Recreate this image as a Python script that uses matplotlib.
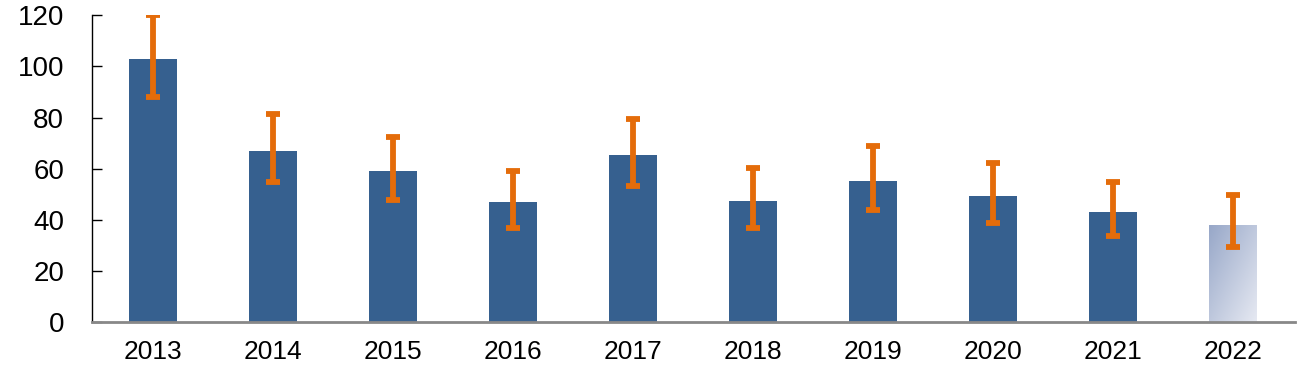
import numpy as np
import matplotlib
matplotlib.use("Agg")
import matplotlib.pyplot as plt
from matplotlib.colors import LinearSegmentedColormap

# valeurs
years = ["2013", "2014", "2015", "2016", "2017", "2018", "2019", "2020", "2021", "2022"]
values = [103.0, 67.0, 59.2, 47.0, 65.5, 47.5, 55.3, 49.4, 43.2, 38.1]
err_high = [120.0, 81.3, 72.6, 59.3, 79.6, 60.1, 68.7, 62.1, 55.0, 49.6]
err_low = [88.0, 55.0, 47.6, 36.9, 53.3, 36.9, 43.9, 38.9, 33.8, 29.2]

bar_color = "#36608f"
err_color = "#e46c0a"

plt.rcParams["font.family"] = ["Liberation Sans", "DejaVu Sans"]

fig = plt.figure(figsize=(13.12, 3.79), dpi=100)
ax = fig.add_axes([0.0701, 0.150, 0.9169, 0.8096])

x = np.arange(len(years))
bars = ax.bar(x, values, width=0.4, color=bar_color, zorder=2)

# dernière barre : dégradé clair (estimation)
last = bars[-1]
last.set_facecolor("none")
cmap = LinearSegmentedColormap.from_list("grad", ["#97a7c8", "#e6e9f2"])
gx, gy = np.meshgrid(np.linspace(0, 1, 60), np.linspace(0, 1, 120))
grad = (gx + gy) / 2
x0 = last.get_x()
im = ax.imshow(grad, cmap=cmap, extent=[x0, x0 + last.get_width(), 0, last.get_height()],
               origin="upper", aspect="auto", zorder=2, interpolation="bilinear")
im.set_clip_path(last)

# barres d'erreur
yerr = [np.array(values) - np.array(err_low), np.array(err_high) - np.array(values)]
ax.errorbar(x, values, yerr=yerr, fmt="none", ecolor=err_color, elinewidth=4.2,
            capsize=4.8, capthick=4.2, zorder=3)

ax.set_xlim(-0.51, 9.52)
ax.set_ylim(0, 120)
ax.set_yticks(range(0, 121, 20))
ax.set_xticks(x)
ax.set_xticklabels(years)

ax.spines["top"].set_visible(False)
ax.spines["right"].set_visible(False)
ax.spines["left"].set_color("black")
ax.spines["left"].set_linewidth(1.0)
ax.spines["bottom"].set_color("#888888")
ax.spines["bottom"].set_linewidth(2.0)
ax.spines["bottom"].set_zorder(4)

ax.tick_params(axis="y", direction="in", length=7, width=1, labelsize=20, pad=20)
ax.tick_params(axis="x", length=0, labelsize=19, pad=13)

fig.savefig("out.png", dpi=100)
